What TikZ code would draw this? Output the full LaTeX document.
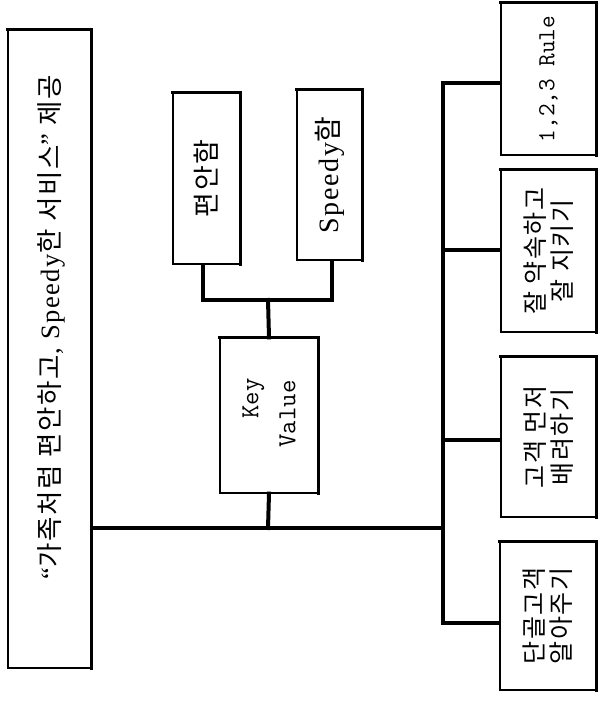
\documentclass[tikz,border=0pt]{standalone}
\usepackage{fontspec}
\setmainfont{Liberation Serif}[LetterSpace=6]
\newfontfamily\kr{Noto Sans CJK KR}[LetterSpace=6]
\newfontfamily\mono{Latin Modern Mono}
\tikzset{
  boxshape/.style={draw, line width=1.1pt, fill=white, inner sep=0pt},
  shadowedge/.style={line width=3.6pt, line cap=rect},
  link/.style={line width=4pt, line cap=rect},
  txt/.style={rotate=90, align=center, inner sep=0pt},
}
\begin{document}
\begin{tikzpicture}[x=1pt,y=-1pt]
\useasboundingbox (0,0) rectangle (600,703);
% boxes
\node[boxshape, minimum width=83pt, minimum height=638pt] (L) at (49.5,349) {};
\node[boxshape, minimum width=67pt, minimum height=171pt] (P) at (206.5,178.5) {};
\node[boxshape, minimum width=65pt, minimum height=170pt] (S) at (329.5,175) {};
\node[boxshape, minimum width=98pt, minimum height=155pt] (K) at (269,415.5) {};
\node[boxshape, minimum width=95pt, minimum height=152pt] (R1) at (548.5,79) {};
\node[boxshape, minimum width=95pt, minimum height=162pt] (R2) at (548.5,251) {};
\node[boxshape, minimum width=95pt, minimum height=160pt] (R3) at (548.5,437) {};
\node[boxshape, minimum width=96pt, minimum height=148pt] (R4) at (548,616) {};
% thick top/right edges
\foreach \b in {L,P,S,K,R1,R2,R3,R4}
  \draw[shadowedge] (\b.north west) -- (\b.north east) -- (\b.south east);
% texts
\node[txt, font=\fontsize{26.5}{30}\selectfont] (tL) at (51,327) {“{\kr 가족처럼} {\kr 편안하고}, Speedy{\kr 한} {\kr 서비스}” {\kr 제공}};
\node[txt, font=\kr\fontsize{27}{30}\selectfont] (tP) at (P.center) {편안함};
\node[txt, font=\fontsize{28}{30}\selectfont] (tS) at (S.center) {Speedy{\kr 함}};
\node[txt, font=\mono\fontsize{26}{37}\selectfont] (tK) at (269,414) {\hspace*{1.2em}Key\\Value};
\node[txt, font=\mono\fontsize{24.5}{30}\selectfont] (t1) at (R1.center) {1,2,3 Rule};
\node[txt, font=\kr\fontsize{25}{27}\selectfont] (t2) at (R2.center) {잘 약속하고\\잘 지키기};
\node[txt, font=\kr\fontsize{25}{27}\selectfont] (t3) at (R3.center) {고객 먼저\\배려하기};
\node[txt, font=\kr\fontsize{25}{27}\selectfont] (t4) at (R4.center) {단골고객\\알아주기};
% connectors
\coordinate (pj) at (268,300);
\coordinate (mj) at (268,528);
\coordinate (bus) at (443,528);
\draw[link] (P.south -| 203,0) |- (pj) -| (S.south -| 332,0);
\draw[link] (pj) -- (K.north);
\draw[link] (K.south) -- (mj);
\draw[link] (L.east |- mj) -- (bus);
\draw[link] (R1.west |- 0,83) -| (443,83) |- (R4.west |- 0,623);
\draw[link] (443,250) -- (R2.west |- 0,250);
\draw[link] (443,440) -- (R3.west |- 0,440);
\end{tikzpicture}
\end{document}
